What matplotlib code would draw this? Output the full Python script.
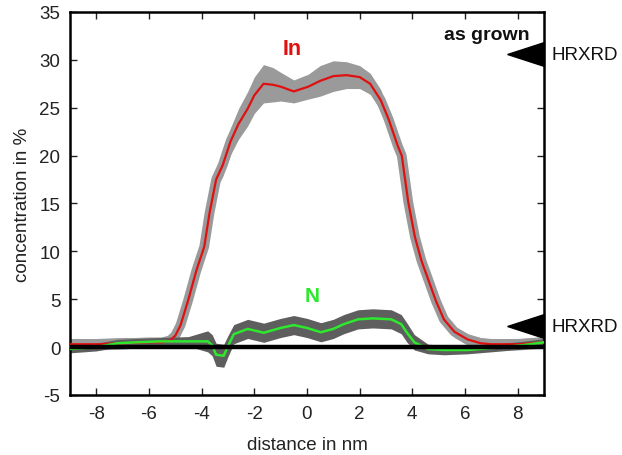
import matplotlib
matplotlib.use("Agg")
import matplotlib.pyplot as plt
import numpy as np

plt.rcParams['font.family'] = ['Liberation Sans', 'DejaVu Sans']
plt.rcParams['axes.unicode_minus'] = False

# In concentration profile
in_x = [-9.0, -8.0, -7.0, -6.0, -5.5, -5.2, -5.0, -4.8, -4.5, -4.2, -3.9, -3.7, -3.45,
        -3.2, -2.9, -2.6, -2.25, -2.0, -1.65, -1.3, -1.0, -0.5, 0.05, 0.5, 1.0, 1.5,
        2.0, 2.4, 2.8, 3.1, 3.45, 3.6, 3.85, 4.1, 4.35, 4.6, 4.9, 5.2, 5.6, 6.1, 6.6,
        7.0, 8.0, 9.0]
in_val = [0.3, 0.3, 0.4, 0.5, 0.5, 0.7, 1.2, 2.3, 5.0, 8.0, 10.5, 14.0, 17.5,
          19.0, 21.5, 23.3, 24.9, 26.3, 27.5, 27.4, 27.2, 26.7, 27.2, 27.8, 28.3, 28.4,
          28.2, 27.5, 25.8, 23.8, 21.0, 20.0, 15.1, 11.5, 9.0, 7.1, 4.8, 2.9, 1.6, 0.8, 0.4,
          0.3, 0.3, 0.5]
in_err = [0.6, 0.6, 0.6, 0.5, 0.5, 0.5, 0.5, 0.5, 0.6, 0.7, 0.8, 0.9, 1.0,
          1.2, 1.4, 1.6, 1.8, 1.9, 2.0, 1.8, 1.5, 1.2, 1.3, 1.6, 1.6, 1.4,
          1.2, 1.1, 1.1, 1.0, 0.9, 0.8, 0.7, 0.6, 0.6, 0.6, 0.6, 0.6, 0.6, 0.6, 0.6,
          0.6, 0.6, 0.6]

# N concentration profile
n_x = [-9.0, -8.0, -7.2, -6.5, -5.6, -4.5, -3.77, -3.6, -3.45, -3.16, -3.0, -2.78,
       -2.25, -1.64, -1.0, -0.5, 0.0, 0.53, 1.0, 1.4, 1.94, 2.5, 3.2, 3.58, 3.8,
       4.08, 4.6, 5.2, 6.1, 7.4, 8.2, 9.0]
n_val = [-0.2, 0.0, 0.4, 0.5, 0.6, 0.6, 0.6, 0.2, -0.8, -0.9, 0.1, 1.35,
         1.9, 1.5, 2.0, 2.3, 2.0, 1.55, 1.9, 2.4, 2.9, 3.0, 2.9, 2.4, 1.5,
         0.5, -0.2, -0.3, -0.3, 0.0, 0.2, 0.5]
n_err = [0.4, 0.4, 0.4, 0.4, 0.4, 0.5, 1.1, 1.1, 1.2, 1.2, 1.1, 1.0,
         1.0, 1.0, 1.0, 1.0, 1.0, 1.0, 1.0, 1.0, 1.0, 1.0, 1.0, 1.0, 1.0,
         0.8, 0.5, 0.5, 0.4, 0.4, 0.4, 0.4]

hrxrd_levels = [30.6, 2.2]
x_ticks = [-8, -6, -4, -2, 0, 2, 4, 6, 8]
y_ticks = [-5, 0, 5, 10, 15, 20, 25, 30, 35]

fig = plt.figure(figsize=(6.22, 4.56), dpi=100)
ax = fig.add_axes([0.1125, 0.1316, 0.762, 0.840])

in_x_a = np.array(in_x); in_v = np.array(in_val); in_e = np.array(in_err)
n_x_a = np.array(n_x); n_v = np.array(n_val); n_e = np.array(n_err)

ax.fill_between(in_x_a, in_v - in_e, in_v + in_e, color='#9a9a9a', lw=0, zorder=1)
ax.plot(in_x_a, in_v, color='#9a9a9a', lw=7, zorder=1, solid_joinstyle='round')
ax.fill_between(n_x_a, n_v - n_e, n_v + n_e, color='#5e5e5e', lw=0, zorder=2)
ax.plot(in_x_a, in_v, color='#e01010', lw=1.6, zorder=3)
ax.plot(n_x_a, n_v, color='#2ee82e', lw=1.8, zorder=4)
ax.axhline(0, color='black', lw=3.2, zorder=5)

# HRXRD markers (left-pointing triangles with right edge on the spine)
tri = [(-3.08, 0), (0, 1), (0, -1), (-3.08, 0)]
for lvl in hrxrd_levels:
    ax.plot([1.0], [lvl], marker=tri, markersize=53, color='black', ls='none',
            transform=ax.get_yaxis_transform(), clip_on=False, zorder=6)
    ax.text(1.015, lvl, 'HRXRD', transform=ax.get_yaxis_transform(),
            fontsize=13.5, va='center', ha='left', color='#111111')

ax.text(-0.57, 31.2, 'In', color='#e01010', fontsize=15.5, fontweight='bold',
        ha='center', va='center')
ax.text(0.19, 5.4, 'N', color='#2ee82e', fontsize=15, fontweight='bold',
        ha='center', va='center')
ax.text(8.46, 32.6, 'as grown', color='#111111', fontsize=14, fontweight='bold',
        ha='right', va='center')

ax.set_xlim(-9, 9)
ax.set_ylim(-5, 35)
ax.set_xticks(x_ticks)
ax.set_yticks(y_ticks)
ax.tick_params(direction='in', top=True, right=True, length=5, width=1,
               labelsize=13.5, colors='#222222', pad=7)
for s in ax.spines.values():
    s.set_linewidth(1.8)
ax.set_xlabel('distance in nm', fontsize=13.5, color='#222222', labelpad=10)
ax.set_ylabel('concentration in %', fontsize=13.5, color='#222222', labelpad=6)

fig.savefig('out.png', dpi=100)
